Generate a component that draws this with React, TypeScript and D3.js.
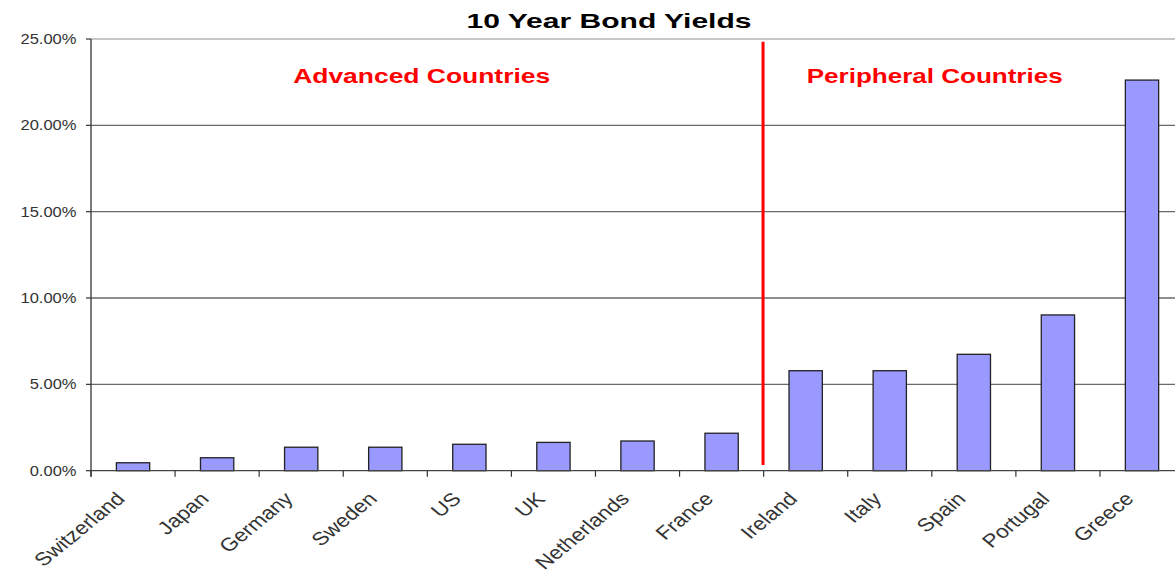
import React from "react";
import * as d3 from "d3";

const categories = ["Switzerland", "Japan", "Germany", "Sweden", "US", "UK", "Netherlands", "France", "Ireland", "Italy", "Spain", "Portugal", "Greece"];
const yields = [0.46, 0.75, 1.36, 1.36, 1.53, 1.64, 1.72, 2.17, 5.79, 5.79, 6.74, 9.02, 22.62];
const yTicks = [0, 5, 10, 15, 20, 25];
const title = "10 Year Bond Yields";
const groupLabels = ["Advanced Countries", "Peripheral Countries"];
const dividerAfterIndex = 8; // divider at left edge of "Ireland"

const W = 1175;
const H = 575;
const left = 91;
const bandW = 84.08;
const right = left + bandW * categories.length;
const top = 39;
const bottom = 470.7;
const FONT = "'Liberation Sans', Arial, sans-serif";

export default function App() {
  const x = d3.scaleBand<string>().domain(categories).range([left, right]).paddingInner(0).paddingOuter(0);
  const y = d3.scaleLinear().domain([0, 25]).range([bottom, top]);
  const barW = x.bandwidth() * 0.396;
  const divX = x(categories[dividerAfterIndex])! - 1.3;

  return (
    <svg width={W} height={H} style={{ position: "absolute", left: 0, top: 0, background: "#fff" }}>
      {/* gridlines */}
      {yTicks.filter((t) => t > 0).map((t) => (
        <line key={"g" + t} x1={left} x2={right} y1={y(t)} y2={y(t)} stroke={t === 25 ? "#b4b4b4" : "#6a6a6a"} strokeWidth={1.3} />
      ))}
      {/* y ticks and labels */}
      {yTicks.map((t) => (
        <g key={"yt" + t}>
          <line x1={left - 5} x2={left} y1={y(t)} y2={y(t)} stroke="#333" strokeWidth={1.2} />
          <g transform={`translate(76.5,${y(t) + 5}) scale(1.14,1)`}>
            <text x={0} y={0} textAnchor="end" fontFamily={FONT} fontSize={14.5} fill="#333">
              {t.toFixed(2) + "%"}
            </text>
          </g>
        </g>
      ))}
      {/* bars */}
      {categories.map((c, i) => (
        <rect
          key={c}
          x={x(c)! + (x.bandwidth() - barW) / 2}
          y={y(yields[i])}
          width={barW}
          height={bottom - y(yields[i])}
          fill="#9999ff"
          stroke="#222"
          strokeWidth={1.3}
        />
      ))}
      {/* axes */}
      <line x1={left} x2={left} y1={top} y2={bottom + 6} stroke="#333" strokeWidth={1.3} />
      <line x1={left} x2={right} y1={bottom} y2={bottom} stroke="#444" strokeWidth={1.3} />
      {categories.map((c) => (
        <line key={"xt" + c} x1={x(c)!} x2={x(c)!} y1={bottom} y2={bottom + 6} stroke="#333" strokeWidth={1.2} />
      ))}
      {/* x labels */}
      {categories.map((c) => (
        <g key={"xl" + c} transform={`translate(${x(c)! + x.bandwidth() / 2 - 7},500) scale(1.22,1) rotate(-45)`}>
          <text x={0} y={0} textAnchor="end" fontFamily={FONT} fontSize={18.5} fill="#333">
            {c}
          </text>
        </g>
      ))}
      {/* divider */}
      <line x1={divX + 0.7} x2={divX + 0.7} y1={41.7} y2={465} stroke="#ff0000" strokeWidth={3} />
      {/* title */}
      <text x={609} y={28.3} textAnchor="middle" fontFamily={FONT} fontWeight="bold" fontSize={21} fill="#000" textLength={285} lengthAdjust="spacingAndGlyphs">
        {title}
      </text>
      {/* group annotations */}
      <text x={421.7} y={82.7} textAnchor="middle" fontFamily={FONT} fontWeight="bold" fontSize={20} fill="#ff0000" textLength={257} lengthAdjust="spacingAndGlyphs">
        {groupLabels[0]}
      </text>
      <text x={934.7} y={82.7} textAnchor="middle" fontFamily={FONT} fontWeight="bold" fontSize={20} fill="#ff0000" textLength={256} lengthAdjust="spacingAndGlyphs">
        {groupLabels[1]}
      </text>
    </svg>
  );
}
